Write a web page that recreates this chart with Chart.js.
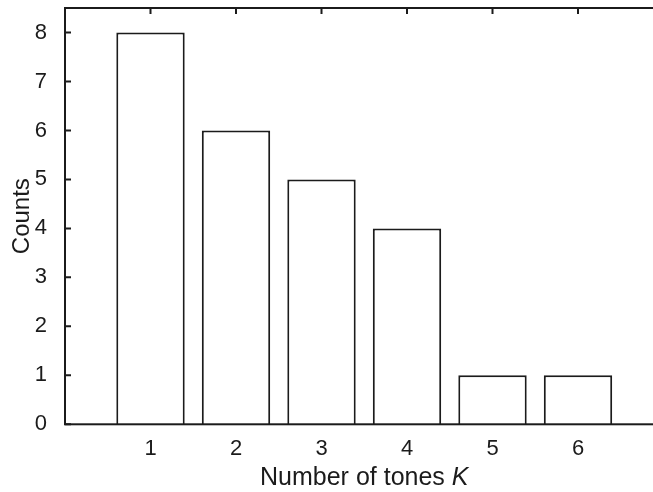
<!DOCTYPE html>
<html>
<head>
<meta charset="utf-8">
<script src="https://cdn.jsdelivr.net/npm/chart.js@4.4.0/dist/chart.umd.min.js"></script>
<style>
  html, body { margin: 0; padding: 0; background: #fff; overflow: hidden; }
  canvas { display: block; }
</style>
</head>
<body>
<canvas id="c" width="672" height="492"></canvas>
<script>
// Histogram of how many tones K were found
const tones = [1, 2, 3, 4, 5, 6];
const counts = [8, 6, 5, 4, 1, 1];
const xTicks = [1, 2, 3, 4, 5, 6];
const yTicks = [0, 1, 2, 3, 4, 5, 6, 7, 8];
const xTitle = 'Number of tones ';
const xTitleSymbol = 'K';
const yTitle = 'Counts';

const FONT = "'Liberation Sans', Arial, Helvetica, sans-serif";
const INK = '#1b1b1b';

// Box around the axes, inward tick marks on all four sides, and the x-axis title
const boxAxes = {
  id: 'boxAxes',
  beforeDatasetsDraw(chart) {
    const { ctx, chartArea: a, scales: { x, y } } = chart;
    const len = 6;
    ctx.save();
    ctx.strokeStyle = INK;
    ctx.lineWidth = 2;
    ctx.beginPath();
    yTicks.forEach(v => {
      const py = y.getPixelForValue(v);
      ctx.moveTo(a.left, py); ctx.lineTo(a.left + len, py);
      ctx.moveTo(a.right, py); ctx.lineTo(a.right - len, py);
    });
    xTicks.forEach(v => {
      const px = x.getPixelForValue(v);
      ctx.moveTo(px, a.top); ctx.lineTo(px, a.top + len);
      ctx.moveTo(px, a.bottom); ctx.lineTo(px, a.bottom - len);
    });
    ctx.stroke();
    ctx.restore();
  },
  afterDatasetsDraw(chart) {
    const { ctx, chartArea: a } = chart;
    ctx.save();
    ctx.strokeStyle = INK;
    ctx.lineWidth = 2;
    ctx.strokeRect(a.left, a.top, a.right - a.left, a.bottom - a.top);
    ctx.restore();
  },
  afterDraw(chart) {
    const { ctx, chartArea: a } = chart;
    ctx.save();
    ctx.fillStyle = INK;
    ctx.textBaseline = 'alphabetic';
    ctx.textAlign = 'left';
    const upright = '25px ' + FONT;
    const slanted = 'italic 25px ' + FONT;
    ctx.font = upright;
    const w1 = ctx.measureText(xTitle).width;
    ctx.font = slanted;
    const w2 = ctx.measureText(xTitleSymbol).width;
    const x0 = (a.left + a.right) / 2 - (w1 + w2) / 2;
    const baseY = 485;
    ctx.font = upright;
    ctx.fillText(xTitle, x0, baseY);
    ctx.font = slanted;
    ctx.fillText(xTitleSymbol, x0 + w1, baseY);
    ctx.restore();
  }
};

new Chart(document.getElementById('c'), {
  type: 'bar',
  data: {
    datasets: [{
      label: yTitle,
      data: tones.map((t, i) => ({ x: t, y: counts[i] })),
      backgroundColor: '#ffffff',
      borderColor: INK,
      borderWidth: 2,
      borderSkipped: 'start',
      barPercentage: 0.8,
      categoryPercentage: 1.0
    }]
  },
  options: {
    responsive: false,
    animation: false,
    events: [],
    layout: { padding: { left: 0, top: 8, right: 8.5, bottom: 0 } },
    plugins: { legend: { display: false }, tooltip: { enabled: false } },
    scales: {
      x: {
        type: 'linear',
        min: 0,
        max: 7,
        offset: false,
        grid: { display: false, offset: false },
        border: { display: false },
        afterBuildTicks(scale) { scale.ticks = xTicks.map(v => ({ value: v })); },
        afterFit(scale) {
          scale.height = 67.7;
          scale.paddingLeft = 0;
          scale.paddingRight = 0;
        },
        ticks: {
          color: INK,
          padding: 3,
          maxRotation: 0,
          font: { family: FONT, size: 22 },
          callback: v => String(v)
        }
      },
      y: {
        min: 0,
        max: 8.5,
        grid: { display: false },
        border: { display: false },
        afterBuildTicks(scale) { scale.ticks = yTicks.map(v => ({ value: v })); },
        afterFit(scale) {
          scale.width = 65;
          scale.paddingTop = 0;
          scale.paddingBottom = 0;
        },
        ticks: {
          color: INK,
          padding: 10,
          font: { family: FONT, size: 22 },
          callback: v => String(v)
        },
        title: {
          display: true,
          text: yTitle,
          color: INK,
          padding: { top: 8, bottom: 0 },
          font: { family: FONT, size: 24 }
        }
      }
    }
  },
  plugins: [boxAxes]
});
</script>
</body>
</html>
